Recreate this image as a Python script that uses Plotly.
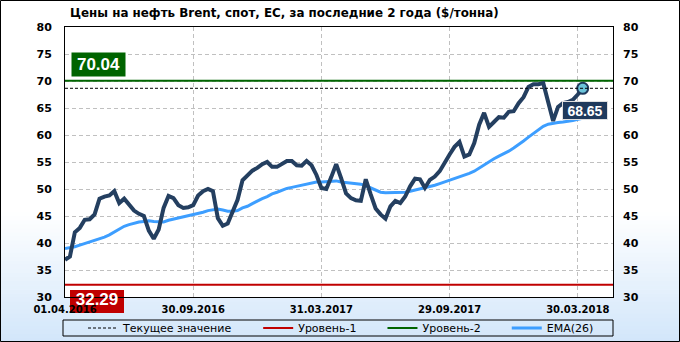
import plotly.graph_objects as go
import pandas as pd

TITLE = "Цены на нефть Brent, спот, ЕС, за последние 2 года ($/тонна)"
START = "2016-04-01"

brent = [36.9, 37.5, 42.0, 42.8, 44.3, 44.4, 45.3, 48.2, 48.6, 48.8,
         49.6, 47.4, 48.2, 47.2, 46.0, 45.4, 45.0, 42.3, 40.8, 42.5,
         46.5, 48.7, 48.3, 47.0, 46.5, 46.6, 47.0, 48.8, 49.6, 50.0,
         49.6, 44.6, 43.2, 43.6, 45.6, 48.0, 51.6, 52.6, 53.4, 53.9,
         54.6, 55.0, 54.1, 54.1, 54.6, 55.2, 55.2, 54.4, 54.3, 55.2,
         54.4, 52.6, 50.2, 50.0, 52.2, 54.6, 52.0, 49.2, 48.3, 47.9,
         47.8, 51.8, 49.0, 46.4, 45.3, 44.5, 46.8, 47.8, 47.4, 48.6,
         50.5, 51.9, 51.8, 50.2, 51.7, 52.3, 53.3, 55.0, 56.4, 57.8,
         58.7, 56.0, 56.4, 58.5, 61.9, 64.1, 61.5, 62.4, 63.3, 63.2,
         64.3, 64.4, 65.9, 67.0, 68.9, 69.4, 69.4, 69.6, 66.2, 62.6,
         65.2, 65.9, 66.1, 66.5, 67.5, 68.65]

ema26 = [39.0, 39.1, 39.3, 39.6, 39.9, 40.2, 40.4, 40.7, 41.1, 41.5,
         42.0, 42.6, 43.1, 43.4, 43.7, 43.9, 44.0, 44.1, 44.0, 43.9,
         43.9, 44.2, 44.4, 44.7, 44.9, 45.1, 45.3, 45.5, 45.7, 46.0,
         46.2, 46.3, 46.1, 45.9, 45.9, 46.0, 46.5, 46.8, 47.3, 47.8,
         48.2, 48.6, 49.1, 49.4, 49.8, 50.1, 50.3, 50.5, 50.7, 50.9,
         51.1, 51.3, 51.3, 51.4, 51.5, 51.5, 51.3, 51.2, 51.1, 51.0,
         50.9, 50.6, 50.2, 49.8, 49.4, 49.3, 49.3, 49.3, 49.3, 49.4,
         49.6, 49.8, 50.0, 50.2, 50.4, 50.7, 51.0, 51.3, 51.7, 52.0,
         52.3, 52.6, 52.9, 53.3, 53.9, 54.5, 55.1, 55.6, 56.1, 56.5,
         57.0, 57.6, 58.2, 58.9, 59.6, 60.3, 61.0, 61.6, 62.0, 62.2,
         62.3, 62.4, 62.5, 62.7, 62.9, 63.1]

LEVEL1 = 32.29
LEVEL2 = 70.04
CURRENT = brent[-1]

tick_dates = ["2016-04-01", "2016-09-30", "2017-03-31", "2017-09-29", "2018-03-30"]
tick_text = ["01.04.2016", "30.09.2016", "31.03.2017", "29.09.2017", "30.03.2018"]
y_ticks = list(range(30, 81, 5))
x_range = ["2016-04-01", "2018-05-19"]
y_range = [30, 80]

legend_names = ["Текущее значение", "Уровень-1", "Уровень-2", "EMA(26)"]

dates = pd.date_range(START, periods=len(brent), freq="7D")

# layout geometry (pixels)
W, H = 680, 342
ML, MR, MT, MB = 65, 67, 27, 45
PW, PH = W - ML - MR, H - MT - MB


def px_x(p):
    return (p - ML) / PW


def px_y(p):
    return (H - MB - p) / PH


PAD = "\u00a0" * 6
BASE = "DejaVu Sans"

fig = go.Figure()

fig.add_trace(go.Scatter(x=x_range, y=[CURRENT, CURRENT], mode="lines", yaxis="y2",
                         line=dict(color="black", width=1, dash="3px,2px"),
                         name=legend_names[0] + PAD, hoverinfo="skip"))
fig.add_trace(go.Scatter(x=x_range, y=[LEVEL1, LEVEL1], mode="lines",
                         line=dict(color="#C00000", width=2),
                         name=legend_names[1] + PAD, hoverinfo="skip"))
fig.add_trace(go.Scatter(x=x_range, y=[LEVEL2, LEVEL2], mode="lines",
                         line=dict(color="#006400", width=2),
                         name=legend_names[2] + PAD, hoverinfo="skip"))
fig.add_trace(go.Scatter(x=dates, y=ema26, mode="lines",
                         line=dict(color="#3D9EFF", width=3),
                         name=legend_names[3]))
fig.add_trace(go.Scatter(x=dates, y=brent, mode="lines",
                         line=dict(color="#243F60", width=4),
                         showlegend=False, name="Brent"))
fig.add_trace(go.Scatter(x=[dates[-1]], y=[brent[-1]], mode="markers",
                         marker=dict(size=11, color="#6CC4DA",
                                     line=dict(color="#1F3A5C", width=2)),
                         showlegend=False, name="last"))

shapes = []
# background gradient at bottom of the paper
N = 32
g0, g1 = 212, 342
c_top = (255, 255, 255)
c_bot = (210, 230, 250)
for k in range(N):
    t = (k + 0.5) / N
    col = tuple(round(c_top[i] + (c_bot[i] - c_top[i]) * t) for i in range(3))
    y0p = g0 + (g1 - g0) * k / N
    y1p = g0 + (g1 - g0) * (k + 1) / N + 0.6
    shapes.append(dict(type="rect", xref="paper", yref="paper", layer="below",
                       x0=px_x(0), x1=px_x(W), y0=px_y(y1p), y1=px_y(y0p),
                       fillcolor="rgb(%d,%d,%d)" % col, line=dict(width=0)))
# red label box (below the axis labels)
RB = (70, 124, 290, 313)
shapes.append(dict(type="rect", xref="paper", yref="paper", layer="below",
                   x0=px_x(RB[0]), x1=px_x(RB[1]), y0=px_y(RB[3]), y1=px_y(RB[2]),
                   fillcolor="#C00000", line=dict(width=0)))
# white plot area (leaving room for the red label box)
for (xa, xb, ya, yb) in [(0, 1, px_y(RB[2]), 1),
                         (0, px_x(RB[0]), 0, px_y(RB[2])),
                         (px_x(RB[1]), 1, 0, px_y(RB[2]))]:
    shapes.append(dict(type="rect", xref="x domain", yref="y domain", layer="below",
                       x0=xa, x1=xb, y0=ya, y1=yb, fillcolor="white",
                       line=dict(width=0)))
# legend box
shapes.append(dict(type="rect", xref="paper", yref="paper",
                   x0=px_x(63), x1=px_x(613), y0=px_y(336), y1=px_y(320),
                   line=dict(color="black", width=1), fillcolor="rgba(0,0,0,0)"))
# outer border
shapes.append(dict(type="rect", xref="paper", yref="paper",
                   x0=px_x(0.5), x1=px_x(W - 0.5), y0=px_y(H - 0.5), y1=px_y(0.5),
                   line=dict(color="black", width=1), fillcolor="rgba(0,0,0,0)"))

annotations = [
    dict(xref="paper", yref="paper", x=px_x(98.5), y=px_y(64), text=f"{LEVEL2:.2f}",
         xanchor="center", yanchor="middle",
         showarrow=False, bgcolor="#006400", width=53, height=23, borderpad=0,
         font=dict(family="Liberation Sans", size=17, color="white", weight="bold")),
    dict(xref="paper", yref="paper", x=px_x(97), y=px_y(299.5), text=f"{LEVEL1:.2f}",
         xanchor="center", yanchor="middle",
         showarrow=False, width=54, height=21, borderpad=0,
         font=dict(family="Liberation Sans", size=17, color="white", weight="bold")),
    dict(xref="paper", yref="paper", x=px_x(585), y=px_y(110.5), text=f"{CURRENT:.2f}",
         xanchor="center", yanchor="middle",
         showarrow=False, bgcolor="#1F3A5C", bordercolor="#E0E0E0", borderwidth=1,
         width=44, height=17, borderpad=0,
         font=dict(family="Liberation Sans", size=14, color="white", weight="bold")),
]

axis_font = dict(family=BASE, size=11, color="black", weight="bold")

fig.update_layout(
    width=W, height=H,
    margin=dict(l=ML, r=MR, t=MT, b=MB, pad=0, autoexpand=False),
    paper_bgcolor="white", plot_bgcolor="rgba(0,0,0,0)",
    title=dict(text=TITLE, x=70 / W, xanchor="left", y=1 - 13 / H, yanchor="middle",
               xref="container", yref="container",
               font=dict(family=BASE, size=11.9, color="black", weight="bold")),
    showlegend=True,
    legend=dict(orientation="h", x=px_x(83), xanchor="left", y=px_y(328), yanchor="middle",
                bgcolor="rgba(0,0,0,0)", borderwidth=0,
                font=dict(family=BASE, size=11, color="black"), itemclick=False),
    xaxis=dict(type="date", range=x_range, tickvals=tick_dates, ticktext=tick_text,
               showgrid=True, gridcolor="#C0C0C0", griddash="4px,3px", gridwidth=1,
               showline=True, linecolor="black", linewidth=1, mirror=True,
               ticks="", tickfont=dict(family=BASE, size=10, color="black", weight="bold"),
               ticklabelstandoff=3, zeroline=False, fixedrange=True, automargin=False),
    yaxis=dict(range=y_range, tickvals=y_ticks, showgrid=True, gridcolor="#C0C0C0",
               griddash="4px,3px", gridwidth=1, showline=True, linecolor="black",
               linewidth=1, mirror=True, ticks="", tickfont=axis_font,
               ticklabelstandoff=10, zeroline=False, fixedrange=True, automargin=False),
    yaxis2=dict(range=y_range, tickvals=y_ticks, overlaying="y", side="right",
                showgrid=False, showline=False, ticks="", tickfont=axis_font,
                ticklabelstandoff=9, zeroline=False, fixedrange=True, automargin=False),
    shapes=shapes,
    annotations=annotations,
    hovermode=False,
)

fig.write_html("out.html")
